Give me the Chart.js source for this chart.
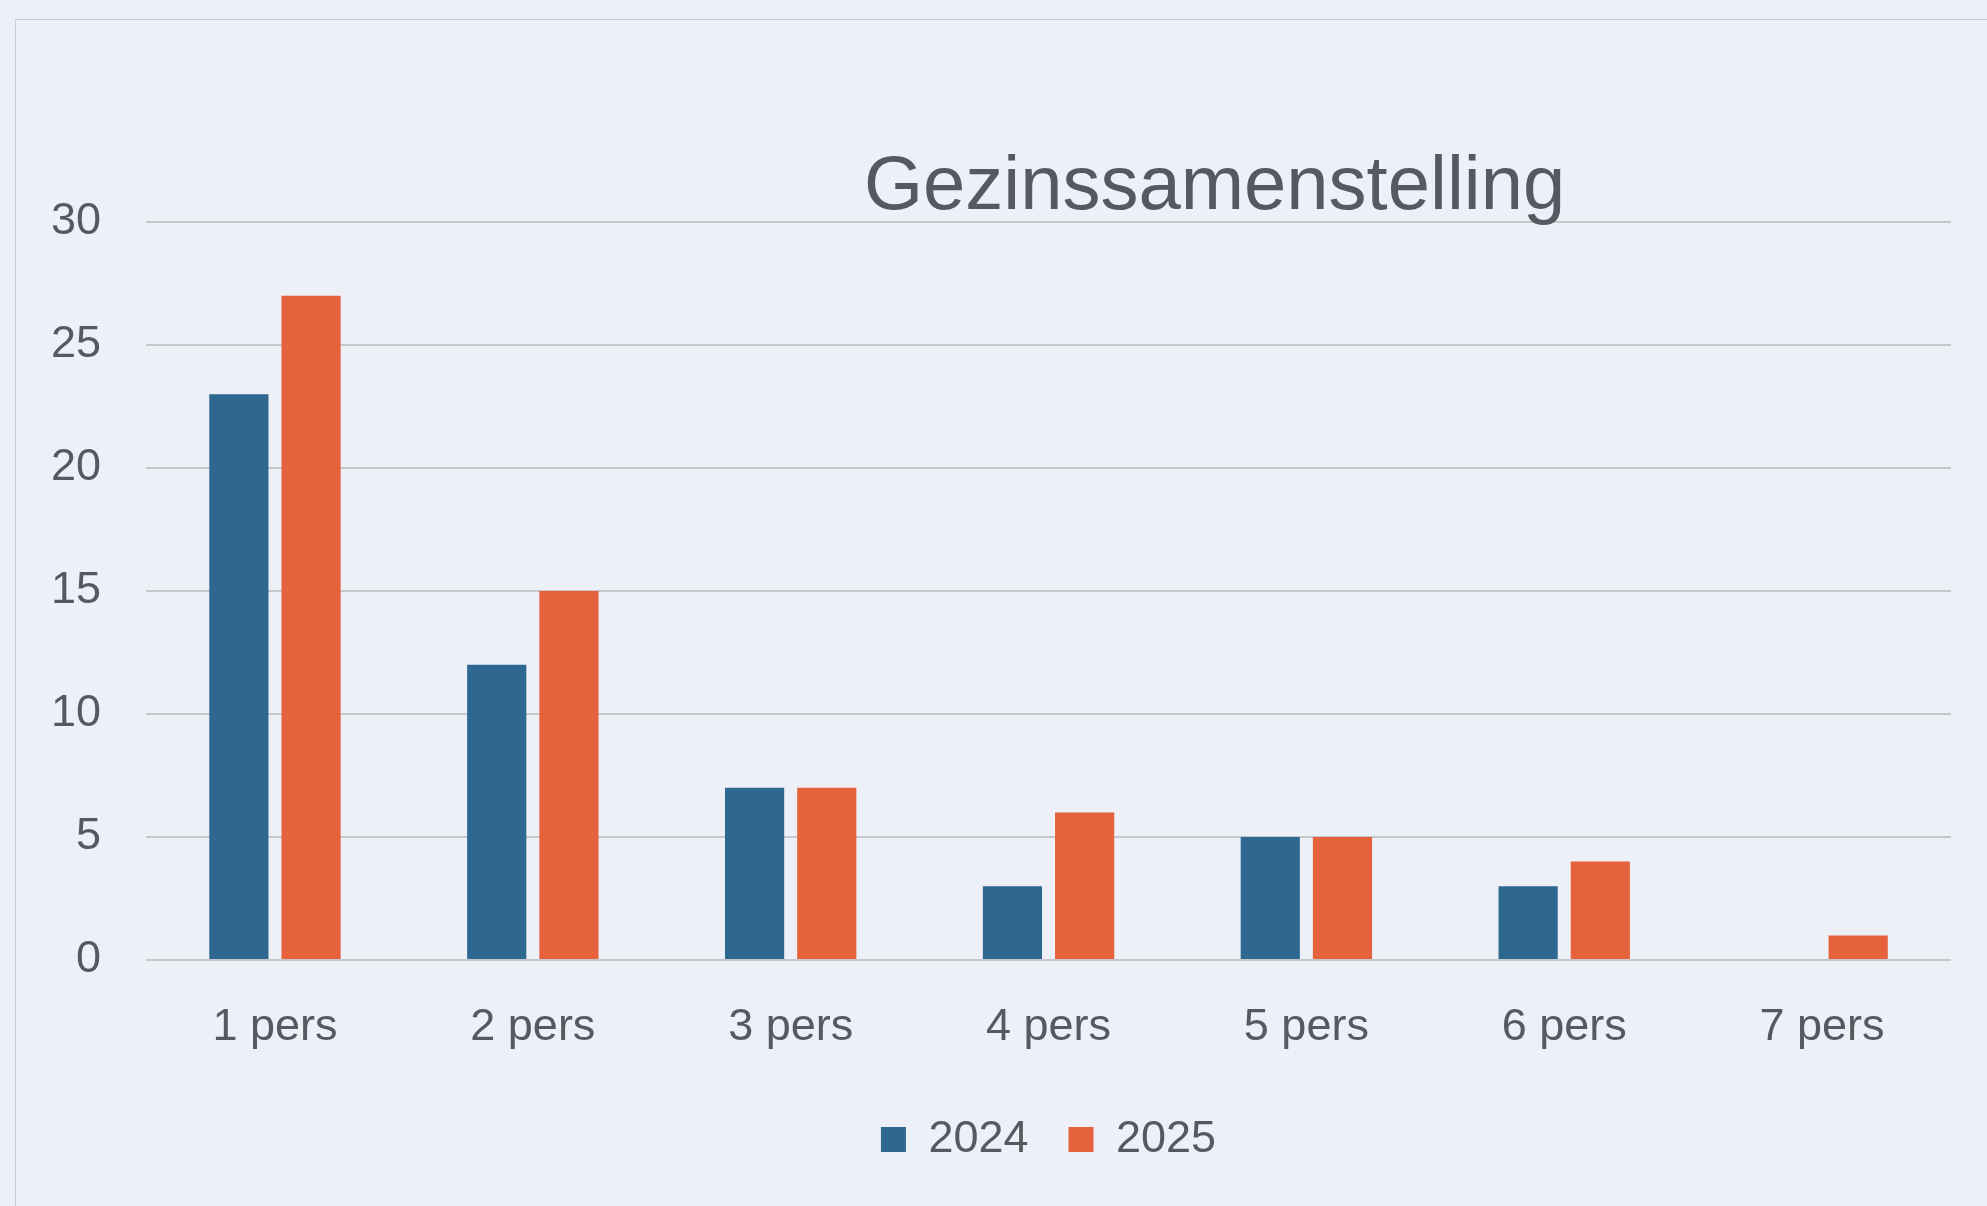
<!doctype html>
<html>
  <head>
    <script src="https://cdn.jsdelivr.net/npm/chart.js"></script>
    <meta name="viewport" content="width=device-width, initial-scale=1" />
    <style>
      html, body {
        margin: 0;
        padding: 0;
        background: #edf0f7;
        font-family: "Liberation Sans", Arial, sans-serif;
      }
      #wrap {
        position: relative;
        width: 1987px;
        height: 1206px;
      }
      #frame {
        position: absolute;
        left: 15px;
        top: 19px;
        right: 0;
        bottom: 0;
        border-left: 1px solid #c9ccd4;
        border-top: 1px solid #c9ccd4;
        pointer-events: none;
      }
    </style>
  </head>
  <body>
    <div id="wrap">
      <canvas id="gezinChart" width="1987" height="1206"></canvas>
      <div id="frame"></div>
    </div>
    <script>
      // data
      const titleText = "Gezinssamenstelling";
      const categories = ["1 pers", "2 pers", "3 pers", "4 pers", "5 pers", "6 pers", "7 pers"];
      const seriesNames = ["2024", "2025"];
      const values2024 = [23, 12, 7, 3, 5, 3, 0];
      const values2025 = [27, 15, 7, 6, 5, 4, 1];
      const yTicks = [0, 5, 10, 15, 20, 25, 30];

      const textGray = "#555a60";

      // title sits right of centre, just above the top gridline
      const offsetTitle = {
        id: "offsetTitle",
        afterDraw(chart) {
          const a = chart.chartArea;
          const c = chart.ctx;
          c.save();
          c.font = "76px 'Liberation Sans', Arial, sans-serif";
          c.fillStyle = textGray;
          c.textAlign = "center";
          c.textBaseline = "middle";
          c.fillText(titleText, a.left + (a.right - a.left) * 0.592, a.top - 34);
          c.restore();
        },
      };

      const ctx = document.getElementById("gezinChart").getContext("2d");
      const gezinChart = new Chart(ctx, {
        type: "bar",
        data: {
          labels: categories,
          datasets: [
            {
              label: seriesNames[0],
              data: values2024,
              backgroundColor: "#2e6890",
              categoryPercentage: 0.56,
              barPercentage: 0.82,
            },
            {
              label: seriesNames[1],
              data: values2025,
              backgroundColor: "#e5623d",
              categoryPercentage: 0.56,
              barPercentage: 0.82,
            },
          ],
        },
        options: {
          responsive: false,
          animation: false,
          layout: {
            padding: { top: 222, left: 6, right: 36, bottom: 34 },
          },
          scales: {
            x: {
              grid: { display: false },
              border: { display: false },
              ticks: {
                color: textGray,
                padding: 33,
                font: { size: 45, family: "'Liberation Sans', Arial, sans-serif" },
              },
              afterFit(axis) {
                axis.height = 117;
              },
            },
            y: {
              min: 0,
              max: 30,
              afterBuildTicks(axis) {
                axis.ticks = yTicks.map((v) => ({ value: v }));
              },
              grid: { color: "#c6c7cc", lineWidth: 2, drawTicks: false },
              border: { display: false },
              ticks: {
                color: textGray,
                padding: 45,
                font: { size: 45, family: "'Liberation Sans', Arial, sans-serif" },
              },
            },
          },
          plugins: {
            title: { display: false },
            tooltip: { enabled: false },
            legend: {
              position: "bottom",
              fullSize: false,
              labels: {
                color: textGray,
                boxWidth: 25,
                boxHeight: 25,
                padding: 40,
                font: { size: 45, family: "'Liberation Sans', Arial, sans-serif" },
              },
            },
          },
        },
        plugins: [offsetTitle],
      });
    </script>
  </body>
</html>
